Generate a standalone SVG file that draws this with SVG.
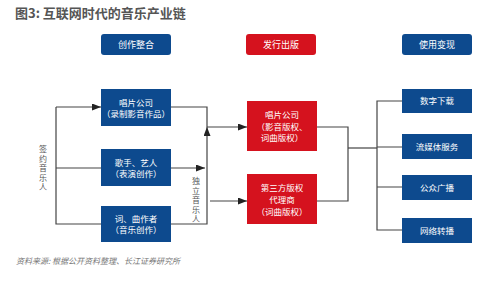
<svg xmlns="http://www.w3.org/2000/svg" width="500" height="281" viewBox="0 0 500 281">
<style>
.blue{fill:#0d4a8e}
.red{fill:#d5121e}
.t{font-family:"Noto Sans CJK SC","Noto Sans",sans-serif;fill:#fff;font-size:8.5px;text-anchor:middle}
.h{font-size:9px}
.ln{fill:none;stroke:#444;stroke-width:1.2}
.lab{font-family:"Noto Sans CJK SC",sans-serif;fill:#555;font-size:8px;text-anchor:middle}
</style>
<defs>
<marker id="ah" markerWidth="9" markerHeight="7" refX="9" refY="3.5" orient="auto" markerUnits="userSpaceOnUse">
<path d="M0,0 L9,3.5 L0,7 Z" fill="#222"/>
</marker>
</defs>
<rect width="500" height="281" fill="#fff"/>
<text x="15" y="18" font-family="Noto Sans CJK SC,sans-serif" font-size="13" font-weight="bold" fill="#555">图3: 互联网时代的音乐产业链</text>

<g id="h1"><rect class="blue" x="101" y="34" width="70" height="21" rx="3"/><text class="t h" x="136" y="48">创作整合</text></g>
<g id="h2"><rect class="red" x="246" y="34" width="70" height="21" rx="3"/><text class="t h" x="281" y="48">发行出版</text></g>
<g id="h3"><rect class="blue" x="402" y="34" width="70" height="21" rx="3"/><text class="t h" x="437" y="48">使用变现</text></g>

<g id="n1"><rect class="blue" x="101" y="89" width="70" height="37"/><text class="t" x="136" y="106">唱片公司</text><text class="t" x="136" y="117">（录制影音作品）</text></g>
<g id="n2"><rect class="blue" x="101" y="149" width="70" height="37"/><text class="t" x="136" y="166">歌手、艺人</text><text class="t" x="136" y="177">（表演创作）</text></g>
<g id="n3"><rect class="blue" x="101" y="206" width="70" height="36"/><text class="t" x="136" y="222">词、曲作者</text><text class="t" x="136" y="233">（音乐创作）</text></g>

<g id="r1"><rect class="red" x="247" y="101" width="70" height="50"/><text class="t" x="282" y="118">唱片公司</text><text class="t" x="282" y="130">（影音版权、</text><text class="t" x="282" y="141">词曲版权）</text></g>
<g id="r2"><rect class="red" x="247" y="174" width="70" height="50"/><text class="t" x="282" y="191">第三方版权</text><text class="t" x="282" y="203">代理商</text><text class="t" x="282" y="215">（词曲版权）</text></g>

<g id="u1"><rect class="blue" x="402" y="89" width="70" height="24"/><text class="t" x="437" y="104">数字下载</text></g>
<g id="u2"><rect class="blue" x="402" y="134" width="70" height="25"/><text class="t" x="437" y="150">流媒体服务</text></g>
<g id="u3"><rect class="blue" x="402" y="175" width="70" height="25"/><text class="t" x="437" y="191">公众广播</text></g>
<g id="u4"><rect class="blue" x="402" y="218" width="70" height="25"/><text class="t" x="437" y="234">网络转播</text></g>

<g id="connectors">
<path class="ln" d="M56,107 V224 H101"/>
<path class="ln" d="M56,107 H101" marker-end="url(#ah)"/>
<path class="ln" d="M56,168 H101"/>
<path class="ln" d="M171,168 H205" marker-end="url(#ah)"/>
<path class="ln" d="M171,107 H207 V127"/>
<path class="ln" d="M171,224 H207 V127" marker-end="url(#ah)"/>
<path class="ln" d="M207,127 H247" marker-end="url(#ah)"/>
<path class="ln" d="M210,201 H247" marker-end="url(#ah)"/>
<path class="ln" d="M317,127 H348 V201 H317"/>
<path class="ln" d="M348,148 H377"/>
<path class="ln" d="M402,101 H377 V230 H402"/>
<path class="ln" d="M377,147 H402 M377,187 H402"/>
</g>

<g id="labels">
<text class="lab" x="43"><tspan x="43" y="152">签</tspan><tspan x="43" y="161.5">约</tspan><tspan x="43" y="171">音</tspan><tspan x="43" y="180.5">乐</tspan><tspan x="43" y="190">人</tspan></text>
<text class="lab" x="196"><tspan x="196" y="184">独</tspan><tspan x="196" y="193.5">立</tspan><tspan x="196" y="203">音</tspan><tspan x="196" y="212.5">乐</tspan><tspan x="196" y="222">人</tspan></text>
</g>
<text x="16" y="264" font-family="Noto Sans CJK SC,sans-serif" font-size="8" font-style="italic" fill="#777">资料来源: 根据公开资料整理、长江证券研究所</text>
</svg>
